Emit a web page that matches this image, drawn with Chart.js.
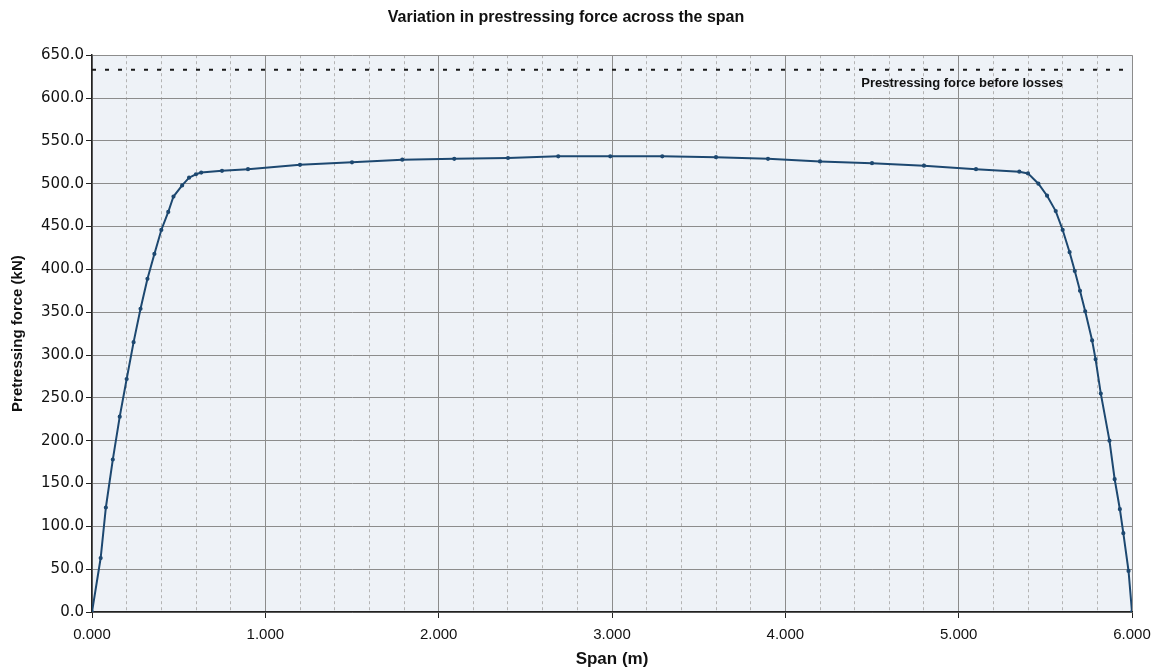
<!DOCTYPE html>
<html>
<head>
<meta charset="utf-8">
<script src="https://cdn.jsdelivr.net/npm/chart.js@4.4.0/dist/chart.umd.min.js"></script>
<style>
  html, body { margin: 0; padding: 0; background: #ffffff; }
  #wrap { width: 1162px; height: 671px; }
</style>
</head>
<body>
<div id="wrap"><canvas id="forceChart"></canvas></div>
<script>
// Span positions (m) and prestressing force after losses (kN)
const spanM = [0.00, 0.05, 0.08, 0.12, 0.16, 0.20, 0.24, 0.28, 0.32, 0.36, 0.40, 0.44, 0.47, 0.52, 0.56, 0.60, 0.63,
  0.75, 0.90, 1.20, 1.50, 1.79, 2.09, 2.40, 2.69, 2.99, 3.29, 3.60, 3.90, 4.20, 4.50, 4.80, 5.10, 5.35, 5.40,
  5.46, 5.51, 5.56, 5.60, 5.64, 5.67, 5.70, 5.73, 5.77, 5.79, 5.82, 5.87, 5.90, 5.93, 5.95, 5.98, 6.00];
const forceKN = [0, 63, 122, 178, 228, 272, 315, 354, 389, 418, 446, 467, 485, 498, 507, 511, 513,
  515, 517, 522, 525, 528, 529, 530, 532, 532, 532, 531, 529, 526, 524, 521, 517, 514, 512,
  500, 486, 468, 446, 420, 398, 375, 351, 317, 295, 255, 200, 155, 120, 92, 48, 0];

// Force before losses (kN), constant along the span
const initialSpan = [0, 6];
const initialForce = [633, 633];
const initialLabel = 'Prestressing force before losses';
const initialLabelX = 5.02;

const yTicks = { min: 0, max: 650, step: 50 };
const xTicks = { min: 0, max: 6, step: 1, minorStep: 0.2 };

// light blue-grey plot background
const plotBackground = {
  id: 'plotBackground',
  beforeDraw(chart) {
    const { ctx, chartArea: a } = chart;
    ctx.save();
    ctx.fillStyle = '#eef2f7';
    ctx.fillRect(a.left, a.top, a.right - a.left, a.bottom - a.top);
    ctx.restore();
  }
};

// text label under the dotted line
const lineLabel = {
  id: 'lineLabel',
  afterDatasetsDraw(chart) {
    const { ctx, scales } = chart;
    const x = scales.x.getPixelForValue(initialLabelX);
    const y = scales.y.getPixelForValue(initialForce[1]) + 14;
    ctx.save();
    ctx.font = 'bold 13px "Liberation Sans", Arial, sans-serif';
    ctx.fillStyle = '#111';
    ctx.textAlign = 'center';
    ctx.textBaseline = 'middle';
    ctx.fillText(initialLabel, x, y);
    ctx.restore();
  }
};

const ctx = document.getElementById('forceChart');
new Chart(ctx, {
  type: 'scatter',
  data: {
    datasets: [{
      label: 'Prestressing force',
      data: spanM.map((s, i) => ({ x: s, y: forceKN[i] })),
      showLine: true,
      borderColor: '#1d4870',
      backgroundColor: '#1d4870',
      borderWidth: 2,
      pointRadius: 1.1,
      pointHoverRadius: 3,
      tension: 0
    }, {
      label: initialLabel,
      data: initialSpan.map((s, i) => ({ x: s, y: initialForce[i] })),
      showLine: true,
      borderColor: '#1a1a1a',
      borderWidth: 2,
      borderDash: [4, 9],
      pointRadius: 0
    }]
  },
  plugins: [plotBackground, lineLabel],
  options: {
    responsive: true,
    maintainAspectRatio: false,
    animation: false,
    layout: { padding: { left: 0, right: 30, top: 0, bottom: 0 } },
    plugins: {
      legend: { display: false },
      tooltip: { enabled: false },
      title: {
        display: true,
        text: 'Variation in prestressing force across the span',
        color: '#111',
        font: { family: '"Liberation Sans", Arial, sans-serif', size: 16, weight: 'bold' },
        padding: { top: 8, bottom: 28 }
      }
    },
    scales: {
      x: {
        type: 'linear',
        position: 'bottom',
        min: xTicks.min,
        max: xTicks.max,
        afterFit: scale => { scale.height = 59; },
        ticks: {
          stepSize: xTicks.step,
          color: '#111',
          padding: 8,
          font: { family: '"Liberation Sans", Arial, sans-serif', size: 15 },
          callback: v => Number(v).toFixed(3)
        },
        grid: { color: '#8c8c8c', lineWidth: 1, tickLength: 6, tickColor: '#222' },
        border: { color: '#222', width: 1.5 },
        title: {
          display: true,
          text: 'Span (m)',
          color: '#111',
          font: { family: '"Liberation Sans", Arial, sans-serif', size: 17, weight: 'bold' },
          padding: { top: 0, bottom: 1 }
        }
      },
      xMinor: {
        type: 'linear',
        position: 'bottom',
        min: xTicks.min,
        max: xTicks.max,
        afterFit: scale => { scale.height = 0; },
        ticks: { display: false, stepSize: xTicks.minorStep },
        grid: {
          drawTicks: false,
          lineWidth: 1,
          color: c => Math.abs(c.tick.value - Math.round(c.tick.value)) < 1e-6 ? 'rgba(0,0,0,0)' : '#b4b4b4'
        },
        border: { display: false, dash: [3, 3] }
      },
      y: {
        min: yTicks.min,
        max: yTicks.max,
        afterFit: scale => { scale.width = 92; },
        ticks: {
          stepSize: yTicks.step,
          color: '#111',
          padding: 2,
          font: { family: '"DejaVu Sans", sans-serif', size: 15 },
          callback: v => Number(v).toFixed(1)
        },
        grid: { color: '#8c8c8c', lineWidth: 1, tickLength: 6, tickColor: '#222' },
        border: { color: '#222', width: 1.5 },
        title: {
          display: true,
          text: 'Pretressing force (kN)',
          color: '#111',
          font: { family: '"Liberation Sans", Arial, sans-serif', size: 15, weight: 'bold' },
          padding: { top: 9, bottom: 0 }
        }
      }
    }
  }
});
</script>
</body>
</html>
